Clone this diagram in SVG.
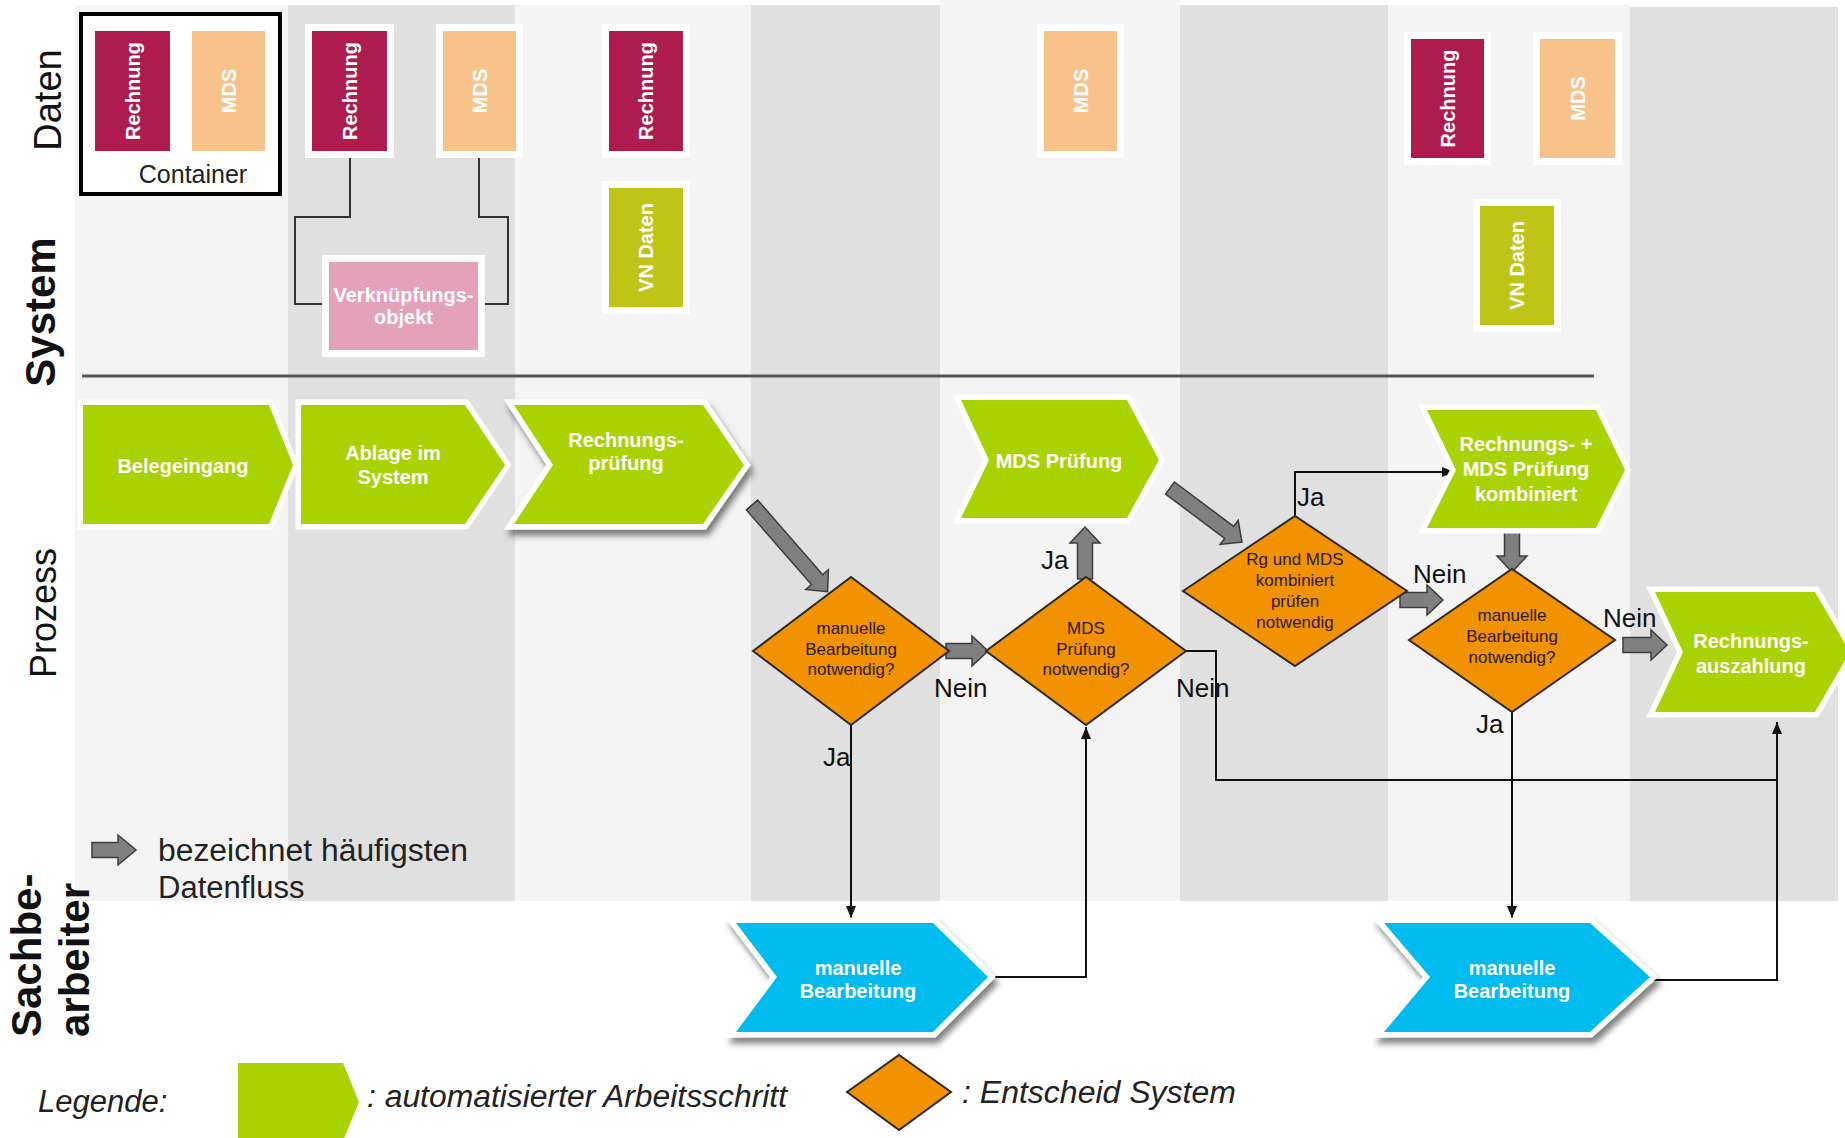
<svg xmlns="http://www.w3.org/2000/svg" width="1845" height="1138" viewBox="0 0 1845 1138">
<defs>
<style>
text{font-family:"Liberation Sans",Arial,sans-serif}
.bgl{fill:#f4f4f4}
.bgd{fill:#e0e0e0}
.data{stroke:#fff;stroke-width:14;paint-order:stroke}
.rg{fill:#ad1b4f}
.mds{fill:#f7c38b}
.vn{fill:#bfc516}
.pk{fill:#e3a1ba}
.dt{fill:#fff;font-size:20px;font-weight:bold;text-anchor:middle;dominant-baseline:central}
.chev{stroke:#fff;stroke-width:11;stroke-linejoin:miter;stroke-miterlimit:6;paint-order:stroke}
.green{fill:#a9d201}
.blue{fill:#00bbee}
.ct{fill:#fff;font-size:20px;font-weight:bold;text-anchor:middle}
.dia{fill:#f39200;stroke:#2a2a2a;stroke-width:2}
.dtx{fill:#2a1a00;font-size:17px;text-anchor:middle}
.ba{fill:#808080;stroke:#3c3c3c;stroke-width:1.5}
.ln{fill:none;stroke:#111;stroke-width:2}
.dl{fill:none;stroke:#333;stroke-width:2}
.lbl{font-size:26px;fill:#111}
.lane{fill:#111}
.leg{fill:#222;font-size:31px}
.it{font-style:italic}
</style>
<marker id="ah" markerWidth="12" markerHeight="10" refX="12" refY="5" orient="auto" markerUnits="userSpaceOnUse"><path d="M0,0 L12,5 L0,10 z" fill="#111"/></marker>
<filter id="sh" x="-10%" y="-10%" width="130%" height="150%"><feDropShadow dx="3" dy="6" stdDeviation="3" flood-color="#000" flood-opacity="0.5"/></filter>
</defs>

<g id="background">
<rect class="bgl" x="75" y="5" width="213" height="896"/>
<rect class="bgd" x="288" y="5" width="227" height="896"/>
<rect class="bgl" x="515" y="5" width="236" height="896"/>
<rect class="bgd" x="751" y="5" width="189" height="896"/>
<rect class="bgl" x="940" y="0" width="240" height="901"/>
<rect class="bgd" x="1180" y="5" width="208" height="896"/>
<rect class="bgl" x="1388" y="5" width="242" height="896"/>
<rect class="bgd" x="1630" y="7" width="208" height="894"/>
<line x1="82" y1="376" x2="1594" y2="376" stroke="#555" stroke-width="3"/>
</g>

<g id="lanes" class="lane">
<text transform="translate(61,100) rotate(-90)" text-anchor="middle" font-size="38">Daten</text>
<text transform="translate(55,312) rotate(-90)" text-anchor="middle" font-size="42" font-weight="bold">System</text>
<text transform="translate(56,613) rotate(-90)" text-anchor="middle" font-size="36">Prozess</text>
<text transform="translate(41,1037) rotate(-90)" font-size="42" font-weight="bold">Sachbe-</text>
<text transform="translate(89,1037) rotate(-90)" font-size="42" font-weight="bold">arbeiter</text>
</g>

<g id="connectors">
<path class="dl" d="M350,157 V217 H295 V304 H323"/>
<path class="dl" d="M479,157 V217 H508 V304 H485"/>
<path class="ln" d="M851,725 V918" marker-end="url(#ah)"/>
<path class="ln" d="M992,977 H1086 V727" marker-end="url(#ah)"/>
<path class="ln" d="M1186,651 H1216 V780 H1777 V722" marker-end="url(#ah)"/>
<path class="ln" d="M1652,980 H1777 V780"/>
<path class="ln" d="M1512,712 V918" marker-end="url(#ah)"/>
<path class="ln" d="M1295,516 V472 H1454" marker-end="url(#ah)"/>
<g id="flow-arrows">
<path class="ba" transform="translate(752,505) rotate(48.9)" d="M0,-7.5 H99 V-15 L115,0 L99,15 V7.5 H0 Z"/>
<path class="ba" transform="translate(946,651)" d="M0,-7.5 H26 V-15 L42,0 L26,15 V7.5 H0 Z"/>
<path class="ba" transform="translate(1085,579) rotate(-90)" d="M0,-7.5 H36 V-15 L52,0 L36,15 V7.5 H0 Z"/>
<path class="ba" transform="translate(1170,488) rotate(36.9)" d="M0,-7.5 H74 V-15 L90,0 L74,15 V7.5 H0 Z"/>
<path class="ba" transform="translate(1400,600)" d="M0,-7.5 H27 V-15 L43,0 L27,15 V7.5 H0 Z"/>
<path class="ba" transform="translate(1512,523) rotate(90)" d="M0,-7.5 H33 V-15 L49,0 L33,15 V7.5 H0 Z"/>
<path class="ba" transform="translate(1623,645)" d="M0,-7.5 H28 V-15 L44,0 L28,15 V7.5 H0 Z"/>
</g>
<g id="connector-labels" class="lbl">
<text x="823" y="766">Ja</text>
<text x="934" y="697">Nein</text>
<text x="1041" y="569">Ja</text>
<text x="1176" y="697">Nein</text>
<text x="1297" y="506">Ja</text>
<text x="1413" y="583">Nein</text>
<text x="1476" y="733">Ja</text>
<text x="1603" y="627">Nein</text>
</g>
</g>

<g id="container">
<rect x="81" y="14" width="199" height="180" fill="#fff" stroke="#000" stroke-width="4"/>
<rect class="rg" x="95" y="31" width="75" height="120"/>
<text class="dt" transform="translate(132.5,91) rotate(-90)">Rechnung</text>
<rect class="mds" x="192" y="31" width="73" height="120"/>
<text class="dt" transform="translate(228.5,91) rotate(-90)">MDS</text>
<text x="193" y="183" font-size="25" text-anchor="middle" fill="#222">Container</text>
</g>
<g id="rechnung2"><rect class="data rg" x="312" y="31" width="75" height="120"/><text class="dt" transform="translate(349.5,91) rotate(-90)">Rechnung</text></g>
<g id="mds2"><rect class="data mds" x="443" y="31" width="73" height="120"/><text class="dt" transform="translate(479.5,91) rotate(-90)">MDS</text></g>
<g id="verknuepfung"><rect class="data pk" x="329" y="262" width="149" height="88"/><text class="ct" x="403.5" y="302">Verknüpfungs-</text><text class="ct" x="403.5" y="324">objekt</text></g>
<g id="rechnung3"><rect class="data rg" x="609" y="31" width="74" height="120"/><text class="dt" transform="translate(646,91) rotate(-90)">Rechnung</text></g>
<g id="vndaten1"><rect class="data vn" x="609" y="188" width="74" height="119"/><text class="dt" transform="translate(646,247.5) rotate(-90)">VN Daten</text></g>
<g id="mds3"><rect class="data mds" x="1044" y="31" width="73" height="120"/><text class="dt" transform="translate(1080.5,91) rotate(-90)">MDS</text></g>
<g id="rechnung4"><rect class="data rg" x="1411" y="39" width="73" height="119"/><text class="dt" transform="translate(1447.5,98.5) rotate(-90)">Rechnung</text></g>
<g id="mds4"><rect class="data mds" x="1540" y="39" width="75" height="119"/><text class="dt" transform="translate(1577.5,98.5) rotate(-90)">MDS</text></g>
<g id="vndaten2"><rect class="data vn" x="1480" y="206" width="74" height="119"/><text class="dt" transform="translate(1517,265.5) rotate(-90)">VN Daten</text></g>

<g id="belegeingang"><polygon class="chev green" points="83,405 269,405 293,465 269,524 83,524"/><text class="ct" x="183" y="473">Belegeingang</text></g>
<g id="ablage"><polygon class="chev green" points="301,405 465,405 505,465 465,524 301,524"/><text class="ct" x="393" y="460">Ablage im</text><text class="ct" x="393" y="484">System</text></g>
<g id="rechnungspruefung"><polygon class="chev green" filter="url(#sh)" points="514,405 703,405 744,465 703,524 514,524 553,465"/><text class="ct" x="626" y="447">Rechnungs-</text><text class="ct" x="626" y="470">prüfung</text></g>
<g id="mdspruefung"><polygon class="chev green" points="961,400 1127,400 1159,460 1127,518 961,518 989,460"/><text class="ct" x="1059" y="468">MDS Prüfung</text></g>
<g id="kombiniert"><polygon class="chev green" points="1427,410 1596,410 1625,470 1596,528 1427,528 1456,470"/><text class="ct" x="1526" y="451">Rechnungs- +</text><text class="ct" x="1526" y="476">MDS Prüfung</text><text class="ct" x="1526" y="501">kombiniert</text></g>
<g id="auszahlung"><polygon class="chev green" points="1655,592 1815,592 1850,652 1815,712 1655,712 1683,652"/><text class="ct" x="1751" y="648">Rechnungs-</text><text class="ct" x="1751" y="673">auszahlung</text></g>
<g id="manuell1"><polygon class="chev blue" filter="url(#sh)" points="736,923 933,923 988,977 933,1032 736,1032 777,977"/><text class="ct" x="858" y="975">manuelle</text><text class="ct" x="858" y="998">Bearbeitung</text></g>
<g id="manuell2"><polygon class="chev blue" filter="url(#sh)" points="1384,923 1590,923 1650,977 1590,1032 1384,1032 1430,977"/><text class="ct" x="1512" y="975">manuelle</text><text class="ct" x="1512" y="998">Bearbeitung</text></g>

<g id="d1"><polygon class="dia" points="753,651 851,577 949,651 851,725"/><text class="dtx" x="851" y="634">manuelle</text><text class="dtx" x="851" y="655">Bearbeitung</text><text class="dtx" x="851" y="675">notwendig?</text></g>
<g id="d2"><polygon class="dia" points="986,651 1086,577 1186,651 1086,725"/><text class="dtx" x="1086" y="634">MDS</text><text class="dtx" x="1086" y="655">Prüfung</text><text class="dtx" x="1086" y="675">notwendig?</text></g>
<g id="d3"><polygon class="dia" points="1183,591 1295,516 1407,591 1295,666"/><text class="dtx" x="1295" y="565">Rg und MDS</text><text class="dtx" x="1295" y="586">kombiniert</text><text class="dtx" x="1295" y="607">prüfen</text><text class="dtx" x="1295" y="628">notwendig</text></g>
<g id="d4"><polygon class="dia" points="1409,640 1512,569 1615,640 1512,712"/><text class="dtx" x="1512" y="621">manuelle</text><text class="dtx" x="1512" y="642">Bearbeitung</text><text class="dtx" x="1512" y="663">notwendig?</text></g>

<g id="legend">
<path class="ba" transform="translate(92,850)" d="M0,-7.5 H26 V-15 L44,0 L26,15 V7.5 H0 Z"/>
<text class="leg" x="158" y="861" textLength="310" lengthAdjust="spacingAndGlyphs">bezeichnet häufigsten</text>
<text class="leg" x="158" y="898">Datenfluss</text>
<text class="leg it" x="38" y="1112">Legende:</text>
<polygon class="green" points="238,1063 343,1063 359,1102 343,1141 238,1141"/>
<text class="leg it" x="367" y="1107" textLength="420" lengthAdjust="spacingAndGlyphs">: automatisierter Arbeitsschritt</text>
<polygon class="dia" points="847,1092 899,1055 951,1092 899,1130"/>
<text class="leg it" x="962" y="1103" textLength="274" lengthAdjust="spacingAndGlyphs">: Entscheid System</text>
</g>
</svg>
